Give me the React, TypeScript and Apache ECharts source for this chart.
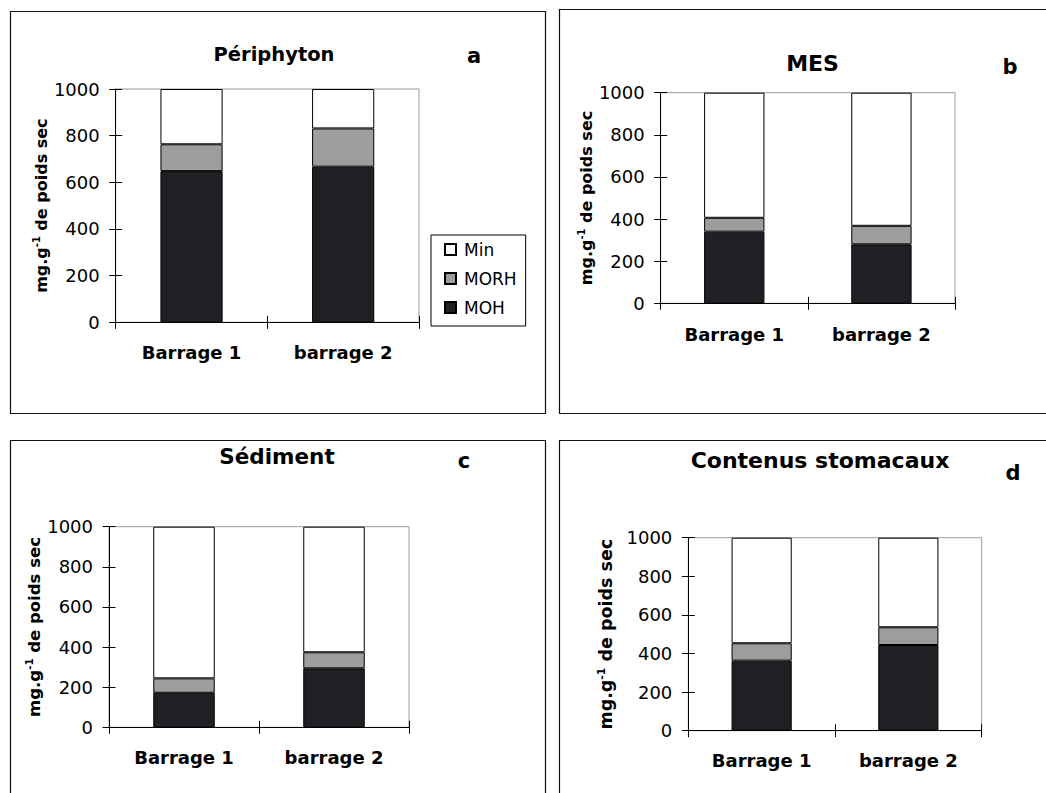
import React, { useEffect, useRef } from 'react';
import * as echarts from 'echarts';

// ---- data ----
const categories = ['Barrage 1', 'barrage 2'];
const legendOrder = ['Min', 'MORH', 'MOH'];
const panelTitles = ['Périphyton', 'MES', 'Sédiment', 'Contenus stomacaux'];
const panelLetters = ['a', 'b', 'c', 'd'];
const yMin = 0;
const yMax = 1000;
const yInterval = 200;

const periphytonMOH = [648, 667];
const periphytonMORH = [115, 164];
const periphytonMin = [237, 169];

const mesMOH = [340, 280];
const mesMORH = [66, 88];
const mesMin = [594, 632];

const sedimentMOH = [172, 294];
const sedimentMORH = [72, 80];
const sedimentMin = [756, 626];

const stomacMOH = [363, 444];
const stomacMORH = [90, 92];
const stomacMin = [547, 464];

const panelData = [
  { MOH: periphytonMOH, MORH: periphytonMORH, Min: periphytonMin },
  { MOH: mesMOH, MORH: mesMORH, Min: mesMin },
  { MOH: sedimentMOH, MORH: sedimentMORH, Min: sedimentMin },
  { MOH: stomacMOH, MORH: stomacMORH, Min: stomacMin },
];

// ---- layout / style ----
const FONT = 'DejaVu Sans';
const colors: Record<string, string> = { MOH: '#221f24', MORH: '#9d9d9d', Min: '#ffffff' };

const layout = [
  { grid: { left: 115.7, top: 89, width: 303.3, height: 233.3 }, title: { x: 274, y: 54, size: 19.5 }, letter: { x: 474, y: 56 }, nameGap: 58.5, nameSize: 16, labelMargin: 21, border: { x: 10.5, y: 11.5, w: 535, h: 402 } },
  { grid: { left: 660.7, top: 92.7, width: 294.3, height: 210.6 }, title: { x: 812.5, y: 63, size: 22 }, letter: { x: 1010, y: 67 }, nameGap: 60.5, nameSize: 16, labelMargin: 22, border: { x: 559.5, y: 9.5, w: 520, h: 404 } },
  { grid: { left: 109, top: 526.7, width: 300, height: 200.6 }, title: { x: 277, y: 456, size: 21.5 }, letter: { x: 464, y: 461 }, nameGap: 50.5, nameSize: 16.5, labelMargin: 21, border: { x: 10.5, y: 440.5, w: 535, h: 400 } },
  { grid: { left: 688.3, top: 537.7, width: 293.4, height: 193 }, title: { x: 820, y: 460, size: 22 }, letter: { x: 1013, y: 473 }, nameGap: 72, nameSize: 17.5, labelMargin: 21, border: { x: 559.5, y: 440.5, w: 520, h: 400 } },
];

function buildOption() {
  const grid: any[] = [];
  const xAxis: any[] = [];
  const yAxis: any[] = [];
  const series: any[] = [];
  const graphic: any[] = [];

  layout.forEach((p, i) => {
    grid.push({ ...p.grid, show: true, borderColor: '#9a9a9a', borderWidth: 1, backgroundColor: 'transparent', outerBoundsMode: 'none' });

    const tickStyle = { color: '#000', width: 1 };
    // main x axis (outside ticks + labels)
    xAxis.push({
      type: 'category', gridIndex: i, data: categories, position: 'bottom',
      axisLine: { show: true, lineStyle: { color: '#000', width: 1 } },
      axisTick: { show: true, inside: false, length: 6.5, alignWithLabel: false, lineStyle: tickStyle },
      axisLabel: { show: true, margin: p.labelMargin, fontFamily: FONT, fontWeight: 'bold', fontSize: 18, color: '#000' },
      splitLine: { show: false },
    });
    // inside-tick x axis
    xAxis.push({
      type: 'category', gridIndex: i, data: categories, position: 'bottom', offset: 0,
      axisLine: { show: false },
      axisTick: { show: true, inside: true, length: 6.5, alignWithLabel: false, lineStyle: tickStyle },
      axisLabel: { show: false },
      splitLine: { show: false },
    });
    yAxis.push({
      type: 'value', gridIndex: i, min: yMin, max: yMax, interval: yInterval, position: 'left',
      axisLine: { show: true, lineStyle: { color: '#000', width: 1 } },
      axisTick: { show: true, inside: false, length: 6.5, lineStyle: tickStyle },
      axisLabel: { show: true, margin: 16, fontFamily: FONT, fontSize: 18, color: '#000', formatter: (v: number) => String(v) },
      splitLine: { show: false },
      name: '{a|mg.g}{s|-1}{a| de poids sec}',
      nameLocation: 'middle',
      nameGap: p.nameGap,
      nameTextStyle: {
        fontFamily: FONT, fontWeight: 'bold', fontSize: p.nameSize, color: '#000',
        rich: {
          a: { fontFamily: FONT, fontWeight: 'bold', fontSize: p.nameSize, color: '#000', lineHeight: 20 },
          s: { fontFamily: FONT, fontWeight: 'bold', fontSize: p.nameSize * 0.62, color: '#000', lineHeight: 11, verticalAlign: 'top' },
        },
      },
    });
    yAxis.push({
      type: 'value', gridIndex: i, min: yMin, max: yMax, interval: yInterval, position: 'left', offset: 0,
      axisLine: { show: false },
      axisTick: { show: true, inside: true, length: 6.5, lineStyle: tickStyle },
      axisLabel: { show: false },
      splitLine: { show: false },
    });

    const d: any = panelData[i];
    ['MOH', 'MORH', 'Min'].forEach((name) => {
      series.push({
        type: 'bar', name, stack: 'p' + i, xAxisIndex: 2 * i, yAxisIndex: 2 * i,
        data: d[name], barWidth: '41%',
        itemStyle: { color: colors[name], borderColor: '#000', borderWidth: 1 },
        emphasis: { disabled: true },
      });
    });

    graphic.push({
      type: 'rect', silent: true,
      shape: { x: p.border.x, y: p.border.y, width: p.border.w, height: p.border.h },
      style: { fill: 'none', stroke: '#111', lineWidth: 1.2 },
    });
    graphic.push({
      type: 'text', x: p.title.x, y: p.title.y, silent: true,
      style: { text: panelTitles[i], fontFamily: FONT, fontWeight: 'bold', fontSize: p.title.size, fill: '#000', align: 'center', verticalAlign: 'middle' },
    });
    graphic.push({
      type: 'text', x: p.letter.x, y: p.letter.y, silent: true,
      style: { text: panelLetters[i], fontFamily: FONT, fontWeight: 'bold', fontSize: 21, fill: '#000', align: 'center', verticalAlign: 'middle' },
    });
  });

  return {
    animation: false,
    backgroundColor: '#ffffff',
    grid, xAxis, yAxis, series, graphic,
    legend: {
      data: legendOrder,
      orient: 'vertical',
      left: 431, top: 235,
      padding: [6, 9, 10, 13],
      itemGap: 12,
      itemWidth: 11, itemHeight: 11,
      icon: 'rect',
      borderColor: '#000', borderWidth: 1,
      backgroundColor: '#fff',
      selectedMode: false,
      textStyle: { fontFamily: FONT, fontSize: 17, color: '#000', padding: [0, 0, 0, 3] },
    },
  };
}

export default function App() {
  const ref = useRef<HTMLDivElement>(null);
  useEffect(() => {
    if (!ref.current) return;
    const chart = echarts.init(ref.current, undefined, { renderer: 'svg' });
    chart.setOption(buildOption() as any);
    return () => chart.dispose();
  }, []);
  return (
    <div
      ref={ref}
      style={{ position: 'fixed', left: 0, top: 0, width: 1046, height: 793, background: '#fff' }}
    />
  );
}
